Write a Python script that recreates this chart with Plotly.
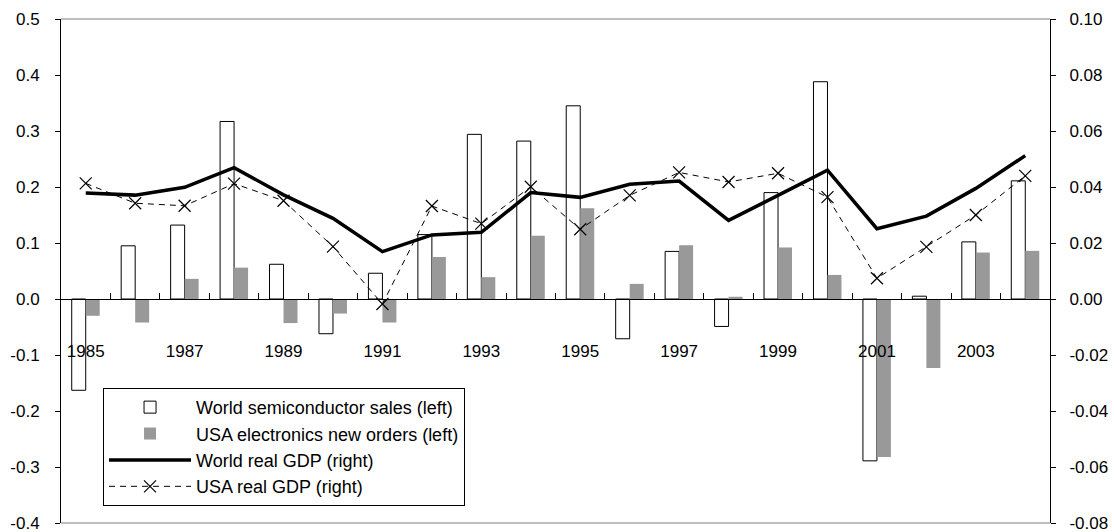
import plotly.graph_objects as go

years = list(range(1985, 2005))
semiconductor = [-0.163, 0.095, 0.132, 0.317, 0.062, -0.062, 0.046, 0.115, 0.294, 0.282,
                 0.345, -0.071, 0.085, -0.049, 0.190, 0.388, -0.289, 0.005, 0.102, 0.211]
electronics = [-0.030, -0.042, 0.036, 0.056, -0.043, -0.026, -0.042, 0.075, 0.039, 0.113,
               0.162, 0.027, 0.096, 0.004, 0.092, 0.043, -0.282, -0.123, 0.083, 0.086]
world_gdp = [0.0379, 0.0371, 0.0399, 0.0469, 0.0372, 0.0288, 0.0169, 0.0229, 0.0238, 0.0380,
             0.0363, 0.0410, 0.0421, 0.0281, 0.0370, 0.0460, 0.0251, 0.0296, 0.0395, 0.0512]
usa_gdp = [0.0413, 0.0342, 0.0333, 0.0412, 0.0351, 0.0187, -0.0018, 0.0332, 0.0269, 0.0401,
           0.0249, 0.0370, 0.0452, 0.0418, 0.0449, 0.0364, 0.0074, 0.0186, 0.0300, 0.0440]

year_tick_vals = years[::2]
year_tick_text = [str(y) for y in year_tick_vals]
left_tick_vals = [-0.4, -0.3, -0.2, -0.1, 0.0, 0.1, 0.2, 0.3, 0.4, 0.5]
left_tick_text = ["-0.4", "-0.3", "-0.2", "-0.1", "0.0", "0.1", "0.2", "0.3", "0.4", "0.5"]
right_tick_vals = [-0.08, -0.06, -0.04, -0.02, 0.0, 0.02, 0.04, 0.06, 0.08, 0.10]
right_tick_text = ["-0.08", "-0.06", "-0.04", "-0.02", "0.00", "0.02", "0.04", "0.06", "0.08", "0.10"]

FONT = "Arial, 'Liberation Sans', sans-serif"

fig = go.Figure()
fig.add_trace(go.Bar(x=years, y=semiconductor, name="World semiconductor sales (left)",
                     marker=dict(color="white", line=dict(color="black", width=1)),
                     legendgroup="a"))
fig.add_trace(go.Bar(x=years, y=electronics, name="USA electronics new orders (left)",
                     marker=dict(color="#999999", line=dict(width=0)),
                     legendgroup="b"))
fig.add_trace(go.Scatter(x=years, y=world_gdp, name="World real GDP (right)", yaxis="y2",
                         mode="lines", line=dict(color="black", width=3.5),
                         legendgroup="c"))
fig.add_trace(go.Scatter(x=years, y=usa_gdp, name="USA real GDP (right)", yaxis="y2",
                         mode="lines+markers", line=dict(color="black", width=1, dash="6px,5px"),
                         marker=dict(symbol="x-thin", size=12, line=dict(color="black", width=1.2)),
                         legendgroup="d"))
# helper trace so the zero-line axis (x2) is rendered
fig.add_trace(go.Scatter(x=years, y=[None] * len(years), xaxis="x2", yaxis="y",
                         showlegend=False, hoverinfo="skip"))

boundaries = [y + 0.5 for y in years[:-1]]

fig.update_layout(
    width=1114, height=532,
    margin=dict(l=61, r=64, t=19, b=9, autoexpand=False),
    paper_bgcolor="white", plot_bgcolor="white",
    font=dict(family=FONT, size=17, color="black"),
    barmode="group", bargap=0.434, bargroupgap=0,
    showlegend=True,
    legend=dict(x=0.0425, y=0.268, xanchor="left", yanchor="top",
                bgcolor="white", bordercolor="black", borderwidth=1,
                font=dict(family=FONT, size=18, color="black"),
                itemwidth=82, tracegroupgap=6, traceorder="normal"),
    xaxis=dict(range=[1984.5, 2004.5], anchor="free", position=0.366, automargin=False,
               showline=False, showgrid=False, zeroline=False,
               tickmode="array", tickvals=year_tick_vals, ticktext=year_tick_text,
               ticks="", tickfont=dict(size=17)),
    xaxis2=dict(range=[1984.5, 2004.5], overlaying="x", anchor="free", position=4 / 9,
                automargin=False,
                showline=True, linecolor="black", linewidth=1,
                showgrid=False, zeroline=False, showticklabels=False,
                tickmode="array", tickvals=boundaries, ticks="inside", ticklen=6,
                tickcolor="black", tickwidth=1),
    yaxis=dict(range=[-0.4, 0.5], showgrid=False, zeroline=False, automargin=False,
               showline=True, linecolor="black", linewidth=1,
               ticks="outside", ticklen=5, tickcolor="black",
               tickmode="array", tickvals=left_tick_vals, ticktext=left_tick_text,
               ticklabelstandoff=12, ticklabeloverflow="allow"),
    yaxis2=dict(range=[-0.08, 0.10], overlaying="y", side="right", anchor="x",
                showgrid=False, zeroline=False, automargin=False,
                showline=True, linecolor="black", linewidth=1,
                ticks="outside", ticklen=5, tickcolor="black",
                tickmode="array", tickvals=right_tick_vals, ticktext=right_tick_text,
                ticklabelstandoff=10, ticklabeloverflow="allow"),
    shapes=[
        dict(type="line", xref="paper", yref="paper", x0=0, x1=1, y0=1, y1=1,
             line=dict(color="#a8a8a8", width=1.5)),
        dict(type="line", xref="paper", yref="paper", x0=0, x1=1, y0=0, y1=0,
             line=dict(color="#a8a8a8", width=1.5)),
    ],
)

fig.write_html("out.html", config={"displayModeBar": False},
               post_script="document.body.style.margin='0';")
